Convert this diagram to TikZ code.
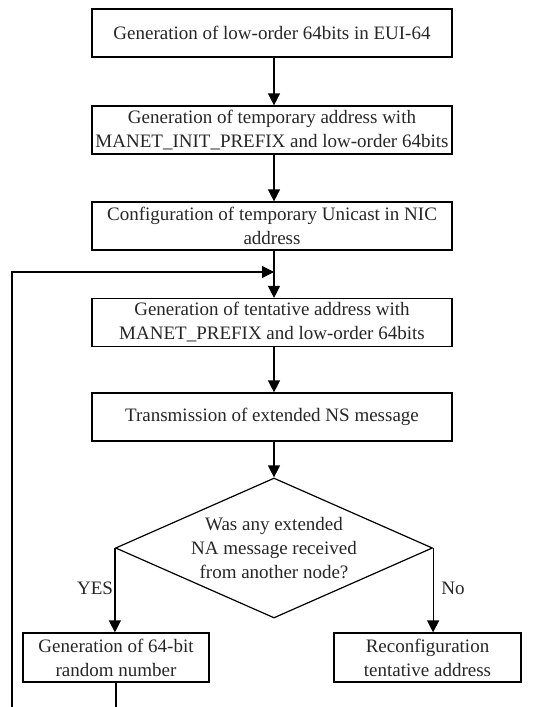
\documentclass[tikz,border=0pt]{standalone}
\usepackage{fontspec}
\setmainfont{Liberation Serif}
\usetikzlibrary{arrows.meta,shapes.geometric}
\begin{document}
\begin{tikzpicture}[x=1pt,y=-1pt,
  every node/.style={font=\fontsize{19}{24}\selectfont, text=black!85},
  stepbox/.style={draw=black, line width=1.2pt, rectangle, minimum width=360pt,
    minimum height=48pt, inner sep=0pt, align=center},
  smallbox/.style={stepbox, minimum width=186pt, minimum height=49pt},
  decision/.style={draw=black, line width=1.2pt, diamond, minimum width=317pt,
    minimum height=140pt, inner sep=0pt},
  flow/.style={line width=1.2pt, -{Triangle[length=12pt,width=12pt]}},
  plain/.style={line width=1.2pt}]
\useasboundingbox (0,0) rectangle (536,707);

\node[stepbox] (b1) at (272,33) {Generation of low-order 64bits in EUI-64};
\node[stepbox] (b2) at (272,130) {Generation of temporary address with\\MANET\_INIT\_PREFIX and low-order 64bits};
\node[stepbox] (b3) at (272,226) {Configuration of temporary Unicast in NIC\\address};
\node[stepbox] (b4) at (272,322.5) {Generation of tentative address with\\MANET\_PREFIX and low-order 64bits};
\node[stepbox] (b5) at (272,417) {Transmission of extended NS message};
\node[decision] (d) at (274,548) {};
\node[align=center] (dq) at (274,548) {Was any extended\\NA message received\\from another node?};
\node[smallbox] (b6) at (116,657.5) {Generation of 64-bit\\random number};
\node[smallbox, minimum width=187pt] (b7) at (427.5,657.5) {Reconfiguration\\tentative address};

\node (yes) at (95,588) {YES};
\node (no) at (453,588) {No};

\coordinate (j) at (274,272);
\coordinate (loopTop) at (12,272);
\coordinate (loopBot) at (12,707);
\coordinate (outBot) at (116,707);

\draw[flow] (b1.south -| j) -- (b2.north -| j);
\draw[flow] (b2.south -| j) -- (b3.north -| j);
\draw[flow] (b3.south -| j) -- (b4.north -| j);
\draw[flow] (b4.south -| j) -- (b5.north -| j);
\draw[flow] (b5.south -| j) -- (d.north);
\draw[flow] (d.west) -- (d.west |- b6.north);
\draw[flow] (d.east) -- (d.east |- b7.north);
\draw[plain] (b6.south) -- (outBot);
\draw[flow] (loopBot) -- (loopTop) -- (j);
\end{tikzpicture}
\end{document}
